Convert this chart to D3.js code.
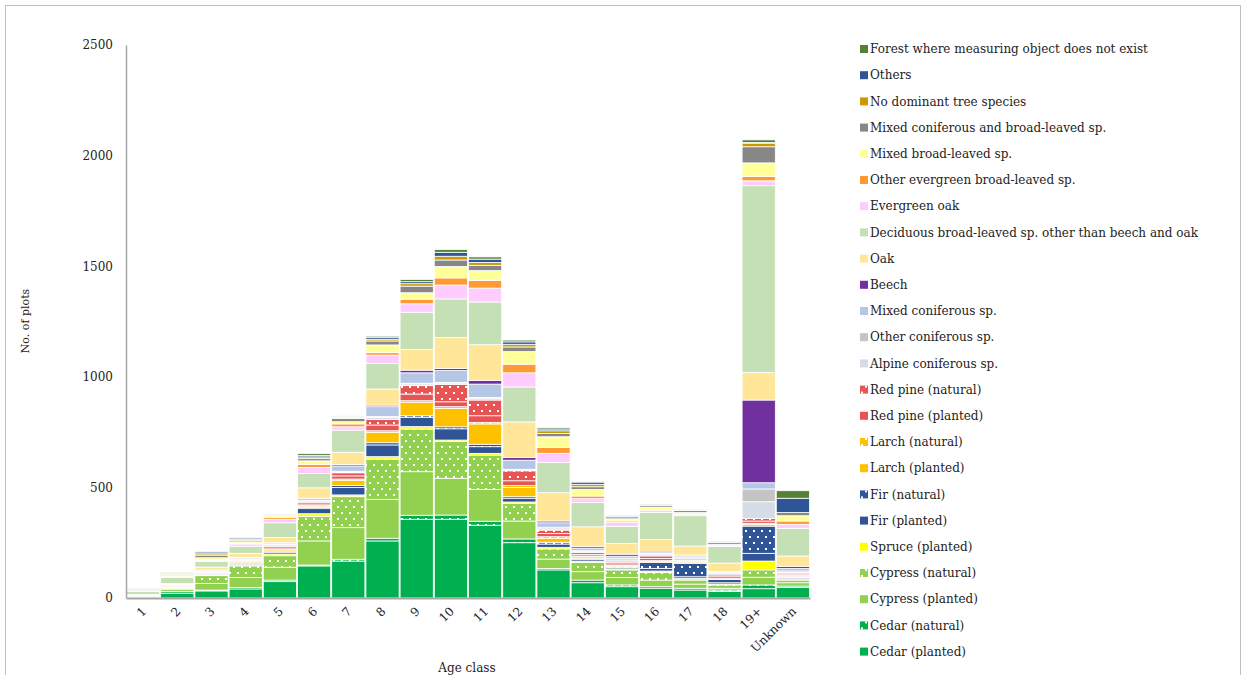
<!DOCTYPE html>
<html lang="en">
<head>
  <meta charset="UTF-8">
  <title>No. of plots by age class</title>
  <script src="https://d3js.org/d3.v7.min.js"></script>
  <style>
    body {
      margin: 0;
      overflow: hidden;
      background: white;
    }
    text {
      font-family: "DejaVu Serif", "Liberation Serif", serif;
      fill: #222;
    }
  </style>
</head>
<body>
  <script>
    const width = 1248;
    const height = 675;

    const ageClasses = ["1","2","3","4","5","6","7","8","9","10","11","12","13","14","15","16","17","18","19+","Unknown"];
    const yTicks = [0, 500, 1000, 1500, 2000, 2500];

    // stacking order, bottom to top
    const cedarPlanted     = [3,22,32,41,74,145,167,258,356,356,329,250,127,69,51,44,36,29,42,47];
    const cedarNatural     = [2,8,4,6,7,4,8,12,18,19,18,17,7,12,8,7,8,7,17,7];
    const cypressPlanted   = [4,10,30,46,58,109,143,176,197,166,144,81,42,38,34,30,19,8,35,15];
    const cypressNatural   = [2,4,35,52,52,111,140,182,193,167,155,80,46,42,34,35,18,15,33,12];
    const sprucePlanted    = [0,1,3,6,8,12,8,11,11,6,8,6,7,6,5,6,8,4,40,4];
    const firPlanted       = [0,2,4,6,8,23,34,53,42,51,30,17,15,8,6,12,7,6,35,5];
    const firNatural       = [0,1,1,2,2,5,9,10,7,9,11,7,8,4,4,27,61,15,123,3];
    const larchPlanted     = [0,2,2,5,8,6,23,47,61,83,92,42,18,7,3,4,5,2,8,3];
    const larchNatural     = [0,0,1,1,2,3,6,7,7,8,7,8,7,4,2,4,3,2,5,2];
    const redPinePlanted   = [0,2,2,3,7,7,14,26,30,22,30,22,15,7,7,10,2,8,10,4];
    const redPineNatural   = [0,2,1,2,8,8,14,26,38,79,71,45,15,8,8,11,2,8,12,6];
    const alpineConif      = [2,3,4,5,6,6,4,8,8,6,8,4,6,5,10,8,12,8,75,8];
    const otherConif       = [0,1,1,2,3,3,3,4,3,3,4,3,7,4,8,3,5,3,58,6];
    const mixedConif       = [1,3,5,5,5,8,24,45,47,53,60,41,20,11,9,4,8,4,28,12];
    const beech            = [0,0,1,2,2,2,7,7,12,10,16,12,8,7,9,7,0,1,374,8];
    const oak              = [2,5,14,18,24,46,55,73,94,140,162,161,128,90,48,53,41,38,125,48];
    const deciduous        = [14,27,25,32,66,65,100,116,168,174,193,158,137,109,78,121,137,75,844,125];
    const evergreenOak     = [1,4,4,10,16,27,15,37,38,63,63,64,41,18,18,10,6,4,22,18];
    const otherEvergreen   = [1,2,3,4,9,13,13,11,21,32,34,39,27,12,6,4,2,2,19,15];
    const mixedBroad       = [2,3,10,6,7,17,10,35,29,52,45,57,48,30,10,11,6,3,62,24];
    const mixedConifBroad  = [4,5,12,7,4,10,14,18,30,29,24,21,15,12,9,8,9,8,73,14];
    const noDominant       = [1,2,6,3,2,8,4,8,11,17,13,12,12,11,3,5,4,2,16,0];
    const others           = [1,3,8,7,3,7,4,9,9,18,15,11,8,10,3,1,4,1,3,65];
    const forestNone       = [4,2,4,1,2,8,4,5,10,12,10,8,6,4,2,2,2,1,12,34];

    const series = [
      { name: "Cedar (planted)", values: cedarPlanted, color: "#00b050" },
      { name: "Cedar (natural)", values: cedarNatural, color: "#00b050", natural: true },
      { name: "Cypress (planted)", values: cypressPlanted, color: "#92d050" },
      { name: "Cypress (natural)", values: cypressNatural, color: "#92d050", natural: true },
      { name: "Spruce (planted)", values: sprucePlanted, color: "#ffff00" },
      { name: "Fir (planted)", values: firPlanted, color: "#2f5597" },
      { name: "Fir (natural)", values: firNatural, color: "#2f5597", natural: true },
      { name: "Larch (planted)", values: larchPlanted, color: "#ffc000" },
      { name: "Larch (natural)", values: larchNatural, color: "#ffc000", natural: true },
      { name: "Red pine (planted)", values: redPinePlanted, color: "#e85454" },
      { name: "Red pine (natural)", values: redPineNatural, color: "#e85454", natural: true },
      { name: "Alpine coniferous sp.", values: alpineConif, color: "#d6dce5" },
      { name: "Other coniferous sp.", values: otherConif, color: "#c4c4c4" },
      { name: "Mixed coniferous sp.", values: mixedConif, color: "#b4c7e7" },
      { name: "Beech", values: beech, color: "#7030a0" },
      { name: "Oak", values: oak, color: "#ffe699" },
      { name: "Deciduous broad-leaved sp. other than beech and oak", values: deciduous, color: "#c5e0b4" },
      { name: "Evergreen oak", values: evergreenOak, color: "#ffccff" },
      { name: "Other evergreen broad-leaved sp.", values: otherEvergreen, color: "#ff9933" },
      { name: "Mixed broad-leaved sp.", values: mixedBroad, color: "#ffff99" },
      { name: "Mixed coniferous and broad-leaved sp.", values: mixedConifBroad, color: "#878787" },
      { name: "No dominant tree species", values: noDominant, color: "#cc9900" },
      { name: "Others", values: others, color: "#2f5597" },
      { name: "Forest where measuring object does not exist", values: forestNone, color: "#548235" }
    ];

    const svg = d3.select("body")
      .append("svg")
      .attr("width", width)
      .attr("height", height);

    // dotted fills for the natural stands
    const defs = svg.append("defs");
    series.forEach((s, i) => {
      if (!s.natural) return;
      s.patternId = "pat" + i;
      const p = defs.append("pattern")
        .attr("id", s.patternId)
        .attr("patternUnits", "userSpaceOnUse")
        .attr("width", 8)
        .attr("height", 12);
      p.append("rect").attr("width", 8).attr("height", 12).attr("fill", s.color);
      p.append("rect").attr("x", 1).attr("y", 2).attr("width", 2).attr("height", 2).attr("fill", "white");
      p.append("rect").attr("x", 5).attr("y", 8).attr("width", 2).attr("height", 2).attr("fill", "white");
    });
    const fillOf = s => s.natural ? `url(#${s.patternId})` : s.color;

    // outer frame
    svg.append("rect")
      .attr("x", 5.5).attr("y", 5.5)
      .attr("width", 1235).attr("height", 720)
      .attr("fill", "none")
      .attr("stroke", "#bfbfbf");

    const x = d3.scaleBand()
      .domain(ageClasses)
      .range([126, 810])
      .padding(0);

    const y = d3.scaleLinear()
      .domain([0, 2500])
      .range([598, 45]);

    const table = ageClasses.map((c, j) => {
      const row = { cls: c };
      series.forEach((s, i) => row[i] = s.values[j]);
      return row;
    });
    const stacked = d3.stack().keys(series.map((s, i) => i))(table);

    svg.append("g")
      .selectAll("g")
      .data(stacked)
      .join("g")
      .attr("fill", d => fillOf(series[d.key]))
      .selectAll("rect")
      .data(d => d)
      .join("rect")
      .attr("x", d => x(d.data.cls) + 0.5)
      .attr("width", x.bandwidth() - 1)
      .attr("y", d => y(d[1]))
      .attr("height", d => Math.max(0, y(d[0]) - y(d[1])))
      .attr("stroke", "white")
      .attr("stroke-width", 0.8);

    // y axis
    const yAxis = svg.append("g")
      .attr("transform", "translate(126,0)")
      .call(d3.axisLeft(y).tickValues(yTicks).tickFormat(d3.format("d")).tickSize(0).tickPadding(13));
    yAxis.select(".domain").attr("stroke", "#a6a6a6").attr("stroke-width", 1.5);
    yAxis.selectAll("text")
      .style("font-family", "DejaVu Serif, serif")
      .style("font-size", "12px")
      .attr("fill", "#222");

    // x axis
    const xAxis = svg.append("g")
      .attr("transform", "translate(0,598)")
      .call(d3.axisBottom(x).tickSize(0).tickPadding(0));
    xAxis.select(".domain").attr("stroke", "#a6a6a6").attr("stroke-width", 2);
    xAxis.selectAll("text")
      .style("font-family", "DejaVu Serif, serif")
      .style("font-size", "12px")
      .attr("fill", "#222")
      .attr("text-anchor", "end")
      .attr("dy", 0)
      .attr("transform", "translate(4,14) rotate(-45)");

    svg.append("text")
      .attr("transform", "translate(29,321) rotate(-90)")
      .attr("text-anchor", "middle")
      .style("font-size", "11px")
      .text("No. of plots");

    svg.append("text")
      .attr("x", 467)
      .attr("y", 672)
      .attr("text-anchor", "middle")
      .style("font-size", "12px")
      .text("Age class");

    // legend, top entry is the last series
    const legend = svg.append("g")
      .selectAll("g")
      .data(series.slice().reverse())
      .join("g")
      .attr("transform", (d, i) => `translate(860,${49 + i * 26.2})`);

    legend.append("rect")
      .attr("x", 0).attr("y", -4)
      .attr("width", 8).attr("height", 8)
      .attr("fill", d => fillOf(d));

    legend.append("text")
      .attr("x", 10)
      .attr("dy", "0.35em")
      .style("font-size", "12px")
      .text(d => d.name);
  </script>
</body>
</html>
